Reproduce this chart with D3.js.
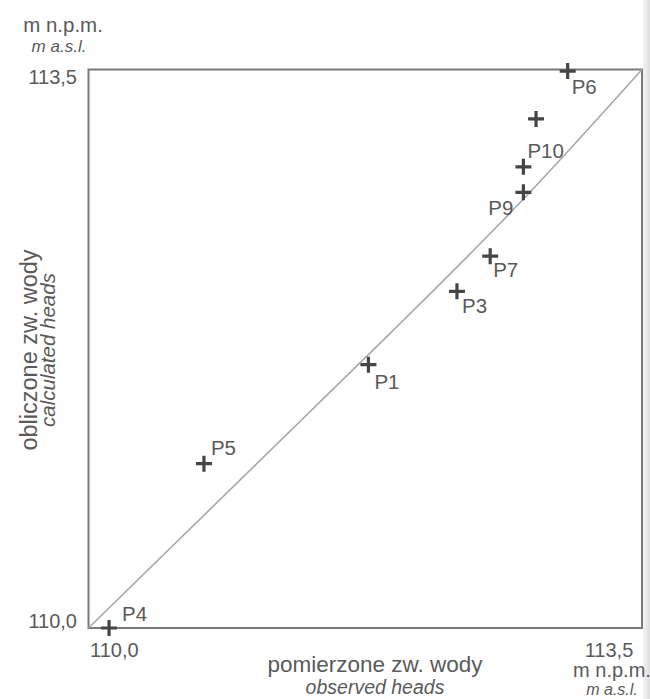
<!DOCTYPE html>
<html>
<head>
<meta charset="utf-8">
<script src="https://cdn.jsdelivr.net/npm/d3@7/dist/d3.min.js"></script>
<style>
  html, body { margin: 0; padding: 0; background: #fff; }
  svg { display: block; }
  text { font-family: "Liberation Sans", Arial, sans-serif; fill: #5a5a5a; }
</style>
</head>
<body>
<svg id="chart" width="650" height="699"></svg>
<script>
// ---- data ----
const pointNames = ["P4", "P5", "P1", "P3", "P7", "P9", "P10", "", "P6"];
const observedHeads = [110.13, 110.73, 111.77, 112.33, 112.54, 112.75, 112.75, 112.83, 113.03];
const calculatedHeads = [110.00, 111.03, 111.65, 112.11, 112.33, 112.73, 112.89, 113.19, 113.49];
const refLineObserved = [110.0, 111.87, 112.80, 113.5];
const refLineCalculated = [110.0, 111.81, 112.74, 113.5];
const tickValues = [110.0, 113.5];
const tickLabels = ["110,0", "113,5"];

// ---- layout ----
const svg = d3.select("#chart");
const L = 88.5, R = 642, T = 69.5, B = 628;
const x = d3.scaleLinear().domain([110, 113.5]).range([L, R]);
const y = d3.scaleLinear().domain([110, 113.5]).range([B, T]);

// scan shadow at right edge
const defs = svg.append("defs");
const grad = defs.append("linearGradient").attr("id", "shade").attr("x1", 0).attr("x2", 1).attr("y1", 0).attr("y2", 0);
grad.append("stop").attr("offset", "0%").attr("stop-color", "#f4f4f4");
grad.append("stop").attr("offset", "100%").attr("stop-color", "#dedede");
svg.append("rect").attr("x", 643).attr("y", 0).attr("width", 7).attr("height", 699).attr("fill", "url(#shade)");

// label offsets (dx, dy, anchor)
const labelOffsets = {
  P4: [13, -7, "start"], P5: [7, -9, "start"], P1: [6, 24, "start"],
  P3: [5, 22, "start"], P7: [3, 21, "start"], P9: [-10, 23, "end"],
  P10: [4, -9, "start"], P6: [4, 23, "start"]
};

// frame
svg.append("rect")
  .attr("x", x(110)).attr("y", y(113.5))
  .attr("width", x(113.5) - x(110)).attr("height", y(110) - y(113.5))
  .attr("fill", "none").attr("stroke", "#7a7a7a").attr("stroke-width", 2);

// 1:1 reference line
const pts = refLineObserved.map((v, i) => [v, refLineCalculated[i]]);
svg.append("path")
  .attr("d", d3.line().x(d => x(d[0])).y(d => y(d[1])).curve(d3.curveNatural)(pts))
  .attr("fill", "none").attr("stroke", "#a8a8a8").attr("stroke-width", 1.6);

// points (crosses)
const data = observedHeads.map((v, i) => ({ name: pointNames[i], obs: v, calc: calculatedHeads[i] }));
const g = svg.append("g");
const arm = 8;
const pg = g.selectAll("g.pt").data(data).enter().append("g")
  .attr("transform", d => `translate(${x(d.obs)},${y(d.calc)})`);
pg.append("path")
  .attr("d", `M${-arm},0H${arm}M0,${-arm}V${arm}`)
  .attr("stroke", "#454545").attr("stroke-width", 3.2).attr("fill", "none");
pg.filter(d => d.name).append("text")
  .attr("x", d => labelOffsets[d.name][0])
  .attr("y", d => labelOffsets[d.name][1])
  .attr("text-anchor", d => labelOffsets[d.name][2])
  .attr("font-size", 20.5)
  .text(d => d.name);

// y tick labels
svg.append("text").attr("x", 77).attr("y", y(tickValues[1]) + 14)
  .attr("text-anchor", "end").attr("font-size", 20).text(tickLabels[1]);
svg.append("text").attr("x", 77).attr("y", y(tickValues[0]))
  .attr("text-anchor", "end").attr("font-size", 20).text(tickLabels[0]);

// x tick labels
svg.append("text").attr("x", x(tickValues[0]) + 1.5).attr("y", 657)
  .attr("text-anchor", "start").attr("font-size", 20).text(tickLabels[0]);
svg.append("text").attr("x", x(tickValues[1]) - 33).attr("y", 657)
  .attr("text-anchor", "middle").attr("font-size", 20).text(tickLabels[1]);

// units
svg.append("text").attr("x", 63).attr("y", 32).attr("text-anchor", "middle")
  .attr("font-size", 20.5).text("m n.p.m.");
svg.append("text").attr("x", 59).attr("y", 52).attr("text-anchor", "middle")
  .attr("font-size", 17).attr("font-style", "italic").text("m a.s.l.");
svg.append("text").attr("x", 612).attr("y", 677).attr("text-anchor", "middle")
  .attr("font-size", 20).text("m n.p.m.");
svg.append("text").attr("x", 612).attr("y", 695).attr("text-anchor", "middle")
  .attr("font-size", 16).attr("font-style", "italic").text("m a.s.l.");

// axis titles
svg.append("text").attr("x", 375).attr("y", 672).attr("text-anchor", "middle")
  .attr("font-size", 22.5).text("pomierzone zw. wody");
svg.append("text").attr("x", 375).attr("y", 694).attr("text-anchor", "middle")
  .attr("font-size", 19.5).attr("font-style", "italic").text("observed heads");

svg.append("text").attr("transform", "translate(37,350) rotate(-90)")
  .attr("text-anchor", "middle").attr("font-size", 23.5).text("obliczone zw. wody");
svg.append("text").attr("transform", "translate(55,350) rotate(-90)")
  .attr("text-anchor", "middle").attr("font-size", 20.5).attr("font-style", "italic").text("calculated heads");
</script>
</body>
</html>
